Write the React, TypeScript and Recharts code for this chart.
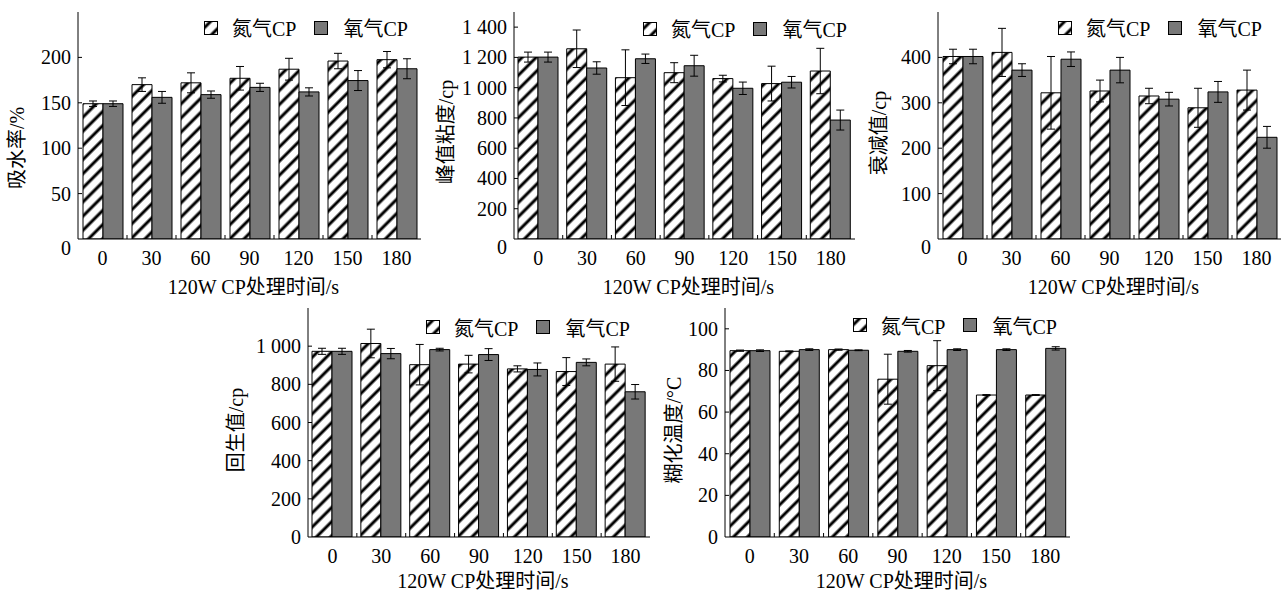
import React from 'react';
import { BarChart, Bar, XAxis, YAxis, ErrorBar, Legend } from 'recharts';

// 120W CP treatment time (s)
const times = ['0', '30', '60', '90', '120', '150', '180'];
const seriesNames = ['氮气CP', '氧气CP'];

// 吸水率 (%)
const absorbN = [149, 170, 172, 177, 187, 196, 197.5];
const absorbNErr = [3, 7.5, 11, 13, 12, 8.5, 9];
const absorbO = [149, 156, 159, 167, 162, 174.5, 187.5];
const absorbOErr = [3, 6.5, 4, 4.5, 4.5, 11, 11];

// 峰值粘度 (cp)
const peakN = [1202, 1257, 1066, 1099, 1060, 1027, 1110];
const peakNErr = [33, 124, 184, 66, 22, 115, 150];
const peakO = [1202, 1130, 1191, 1145, 996, 1036, 786];
const peakOErr = [33, 41, 31, 69, 41, 38, 66];

// 衰减值 (cp)
const breakN = [402, 411, 322, 326, 315, 289, 328];
const breakNErr = [16, 53, 80, 24, 17, 43, 44];
const breakO = [402, 372, 396, 372, 308, 324, 224];
const breakOErr = [16, 14, 16, 28, 15, 23, 24];

// 回生值 (cp)
const setbackN = [973, 1014, 903, 906, 881, 867, 906];
const setbackNErr = [16, 75, 106, 46, 16, 73, 90];
const setbackO = [973, 961, 982, 956, 878, 915, 761];
const setbackOErr = [16, 27, 7, 31, 34, 18, 38];

// 糊化温度 (°C)
const gelN = [89.5, 89.2, 90, 75.8, 82.3, 68.2, 68.2];
const gelNErr = [0.3, 0.2, 0.3, 12, 12, 0.2, 0.2];
const gelO = [89.5, 90, 89.7, 89.2, 90, 90, 90.6];
const gelOErr = [0.4, 0.4, 0.2, 0.4, 0.4, 0.4, 0.8];

const FONT = '"Liberation Serif", "Times New Roman", "Noto Sans CJK SC", serif';
const GREY = '#787878';
const FS = 20;

const fmt = (v: number) =>
  v >= 1000 ? `${Math.floor(v / 1000)} ${String(v % 1000).padStart(3, '0')}` : String(v);

const rows = (n: number[], nErr: number[], o: number[], oErr: number[]) =>
  times.map((t, i) => ({ time: t, n: n[i], nErr: nErr[i], o: o[i], oErr: oErr[i] }));

const panels = [
  { yLabel: '吸水率/%', data: rows(absorbN, absorbNErr, absorbO, absorbOErr), domain: [0, 250], ticks: [0, 50, 100, 150, 200],
    x0: 78, x1: 421, top: 7, base: 239, legX: 204, legY: 27.5, labX: 17, labY: 148, zeroDrop: 9, xLabOff: 48, xh: 62 },
  { yLabel: '峰值粘度/cp', data: rows(peakN, peakNErr, peakO, peakOErr), domain: [0, 1500], ticks: [0, 200, 400, 600, 800, 1000, 1200, 1400],
    x0: 514, x1: 855, top: 7, base: 239, legX: 643, legY: 28.5, labX: 446, labY: 132, zeroDrop: 8, xLabOff: 48, xh: 62 },
  { yLabel: '衰减值/cp', data: rows(breakN, breakNErr, breakO, breakOErr), domain: [0, 500], ticks: [0, 100, 200, 300, 400],
    x0: 938, x1: 1281, top: 7, base: 239, legX: 1058, legY: 27.5, labX: 879, labY: 133, zeroDrop: 8, xLabOff: 48, xh: 62 },
  { yLabel: '回生值/cp', data: rows(setbackN, setbackNErr, setbackO, setbackOErr), domain: [0, 1200], ticks: [0, 200, 400, 600, 800, 1000],
    x0: 308, x1: 650, top: 303, base: 537, legX: 426, legY: 327, labX: 236, labY: 430, zeroDrop: 0, xLabOff: 44, xh: 57 },
  { yLabel: '糊化温度/°C', data: rows(gelN, gelNErr, gelO, gelOErr), domain: [0, 110], ticks: [0, 20, 40, 60, 80, 100],
    x0: 725, x1: 1070, top: 303, base: 537, legX: 853, legY: 325, labX: 674, labY: 430, zeroDrop: 0, xLabOff: 44, xh: 57 },
];

const Y_W = 90;

const YTick = (props: any) => {
  const { x, y, payload, zeroDrop } = props;
  const ax = x + 7;
  const isZero = payload.value === 0;
  return (
    <g>
      {!isZero && <line x1={ax} x2={ax + 4} y1={y} y2={y} stroke="#000" strokeWidth={1} />}
      <text x={x} y={y + (isZero ? zeroDrop : 0)} dy="0.35em" textAnchor="end" fontSize={FS} fontFamily={FONT} fill="#000">
        {fmt(payload.value)}
      </text>
    </g>
  );
};

const XTick = (props: any) => {
  const { x, y, payload, index, visibleTicksCount, width } = props;
  const half = payload.offset ?? width / visibleTicksCount / 2;
  const ay = y - 12;
  const bx = x + half;
  return (
    <g>
      {index < visibleTicksCount - 1 && <line x1={bx} x2={bx} y1={ay} y2={ay - 4} stroke="#000" strokeWidth={1} />}
      <text x={x} y={y} dy="0.71em" textAnchor="middle" fontSize={FS} fontFamily={FONT} fill="#000">
        {payload.value}
      </text>
    </g>
  );
};

const LegendBox = ({ id }: { id: string }) => (
  <div style={{ display: 'flex', alignItems: 'center', height: 24, fontFamily: FONT, fontSize: FS, color: '#000', whiteSpace: 'nowrap' }}>
    <svg width={14} height={14} style={{ display: 'block' }}>
      <rect x={0.5} y={0.5} width={13} height={13} fill={`url(#${id})`} stroke="#000" />
    </svg>
    <span style={{ marginLeft: 14 }}>{seriesNames[0]}</span>
    <svg width={14} height={14} style={{ display: 'block', marginLeft: 18 }}>
      <rect x={0.5} y={0.5} width={13} height={13} fill={GREY} stroke="#000" />
    </svg>
    <span style={{ marginLeft: 15 }}>{seriesNames[1]}</span>
  </div>
);

const Panel = ({ p, idx }: { p: (typeof panels)[number]; idx: number }) => {
  const left = p.x0 - Y_W;
  const width = p.x1 + 5 - left;
  const height = p.base - p.top + p.xh;
  const id = `hatch${idx}`;
  return (
    <div style={{ position: 'absolute', left, top: p.top }}>
      <BarChart width={width} height={height} data={p.data} barGap={0}
        margin={{ top: 5, right: 5, left: 0, bottom: 0 }}>
        <defs>
          <pattern id={id} patternUnits="userSpaceOnUse" width={10} height={10} patternTransform="rotate(45)">
            <rect width={10} height={10} fill="#fff" />
            <line x1={5} y1={0} x2={5} y2={10} stroke="#000" strokeWidth={3} />
          </pattern>
        </defs>
        <XAxis dataKey="time" height={p.xh} stroke="#000" tickSize={0} tickMargin={12}
          tick={(t: any) => <XTick {...t} />}
          label={{ content: (lp: any) => {
            const vb = lp.viewBox;
            return (
              <text x={vb.x + vb.width / 2 + 4} y={vb.y + p.xLabOff} textAnchor="middle" dominantBaseline="central"
                fontSize={FS} fontFamily={FONT} fill="#000">120W CP处理时间/s</text>
            );
          } }} />
        <YAxis width={Y_W} domain={p.domain} ticks={p.ticks} stroke="#000" tickSize={0} tickMargin={7}
          allowDataOverflow tick={(t: any) => <YTick {...t} zeroDrop={p.zeroDrop} />}
          label={{ content: () => {
            const cx = p.labX - left;
            const cy = p.labY - p.top;
            return (
              <text x={cx} y={cy} transform={`rotate(-90 ${cx} ${cy})`} textAnchor="middle" dominantBaseline="central"
                fontSize={FS} fontFamily={FONT} fill="#000">{p.yLabel}</text>
            );
          } }} />
        <Legend layout="horizontal" verticalAlign="middle" align="center"
          wrapperStyle={{ left: p.legX - left, top: p.legY - p.top - 12, width: 'auto', height: 24 }}
          content={() => <LegendBox id={id} />} />
        <Bar dataKey="n" name={seriesNames[0]} fill={`url(#${id})`} stroke="#000" strokeWidth={1} barSize={20} isAnimationActive={false}>
          <ErrorBar dataKey="nErr" width={4} stroke="#000" strokeWidth={1} direction="y" />
        </Bar>
        <Bar dataKey="o" name={seriesNames[1]} fill={GREY} stroke="#000" strokeWidth={1} barSize={20} isAnimationActive={false}>
          <ErrorBar dataKey="oErr" width={4} stroke="#000" strokeWidth={1} direction="y" />
        </Bar>
      </BarChart>
    </div>
  );
}

export default function App() {
  return (
    <div style={{ position: 'absolute', left: 0, top: 0, width: 1285, height: 594, background: '#fff', overflow: 'hidden' }}>
      {panels.map((p, i) => (
        <Panel key={i} p={p} idx={i} />
      ))}
    </div>
  );
}
